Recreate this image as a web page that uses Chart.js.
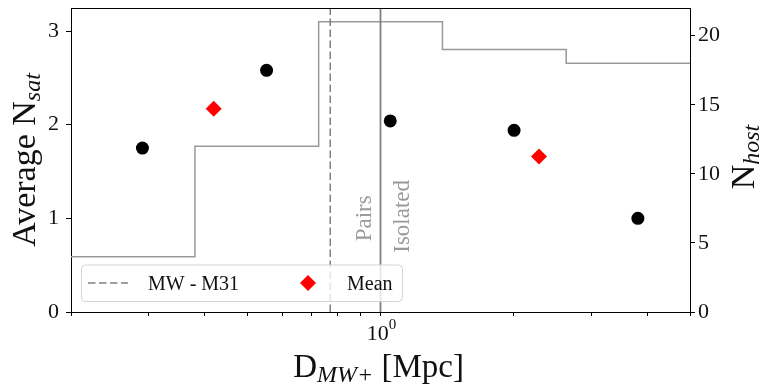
<!DOCTYPE html>
<html>
<head>
<meta charset="utf-8">
<title>Average satellites vs distance</title>
<script src="https://cdn.jsdelivr.net/npm/chart.js@4.4.1/dist/chart.umd.min.js"></script>
<style>
  html, body { margin: 0; padding: 0; background: #fff; }
  #wrap { width: 761px; height: 390px; }
</style>
</head>
<body>
<div id="wrap"><canvas id="satChart" width="761" height="390"></canvas></div>
<script>
// distance bins [Mpc] and number of hosts per bin
const binEdges = [0.2, 0.381, 0.725, 1.38, 2.627, 5.0];
const nHost = [4, 12, 21, 19, 18];

// average satellite count per bin
const binCenters = [0.29, 0.553, 1.052, 2.003, 3.813];
const avgNsat = [1.75, 2.58, 2.04, 1.94, 1.0];

// pairs / isolated means
const meanDist = [0.42, 2.28];
const meanNsat = [2.17, 1.66];

const mwM31Dist = 0.77;
const splitDist = 1.0;

const xTicks = [0.2, 0.3, 0.4, 0.5, 0.6, 0.7, 0.8, 0.9, 1, 2, 3, 4, 5];
const nsatTicks = [0, 1, 2, 3];
const nhostTicks = [0, 5, 10, 15, 20];
const nsatMax = 3.246;
const nhostMax = 22;

const SERIF = '"Liberation Serif", "Times New Roman", serif';
const GREY = '#808080';
const DASH = [7.5, 3.5];

Chart.defaults.font.family = SERIF;

// step outline: each bin value holds until the next edge
const stepPoints = binEdges.map((e, i) => ({ x: e, y: nHost[Math.min(i, nHost.length - 1)] }));
const dotPoints = binCenters.map((x, i) => ({ x: x, y: avgNsat[i] }));
const meanPoints = meanDist.map((x, i) => ({ x: x, y: meanNsat[i] }));

function vline(x) {
    return [{ x: x, y: 0 }, { x: x, y: nsatMax }];
}

// text with an italic subscript, drawn left to right from (x, y)
function drawSub(ctx, base, sub, x, y, size, subSize, drop) {
    ctx.font = size + 'px ' + SERIF;
    ctx.fillText(base, x, y);
    const w = ctx.measureText(base).width;
    ctx.font = 'italic ' + subSize + 'px ' + SERIF;
    ctx.fillText(sub, x + w, y + drop);
    return w + ctx.measureText(sub).width;
}

function subWidth(ctx, base, sub, size, subSize) {
    ctx.font = size + 'px ' + SERIF;
    let w = ctx.measureText(base).width;
    ctx.font = 'italic ' + subSize + 'px ' + SERIF;
    return w + ctx.measureText(sub).width;
}

const annotations = {
    id: 'annotations',
    afterDraw(chart) {
        const ctx = chart.ctx;
        const area = chart.chartArea;
        const xs = chart.scales.x;
        const ys = chart.scales.y;

        ctx.save();

        // top frame line
        ctx.strokeStyle = '#000';
        ctx.lineWidth = 1;
        ctx.beginPath();
        ctx.moveTo(area.left, Math.round(area.top) + 0.5);
        ctx.lineTo(area.right, Math.round(area.top) + 0.5);
        ctx.stroke();

        // region labels either side of the split
        const sx = xs.getPixelForValue(splitDist);
        const sy = ys.getPixelForValue(1);
        ctx.fillStyle = '#9a9a9a';
        ctx.font = '23px ' + SERIF;
        ctx.textAlign = 'center';
        ctx.textBaseline = 'alphabetic';
        ctx.save();
        ctx.translate(sx - 9.5, sy);
        ctx.rotate(-Math.PI / 2);
        ctx.fillText('Pairs', 0, 0);
        ctx.restore();
        ctx.save();
        ctx.translate(sx + 28, sy - 2);
        ctx.rotate(-Math.PI / 2);
        ctx.fillText('Isolated', 0, 0);
        ctx.restore();

        // x tick label 10^0
        ctx.fillStyle = '#111';
        ctx.textAlign = 'left';
        ctx.font = '22px ' + SERIF;
        const tw = ctx.measureText('10').width;
        ctx.font = '15px ' + SERIF;
        const sw = ctx.measureText('0').width;
        const tx = xs.getPixelForValue(1) - (tw + sw) / 2 + 1;
        ctx.font = '22px ' + SERIF;
        ctx.fillText('10', tx, 340);
        ctx.font = '15px ' + SERIF;
        ctx.fillText('0', tx + tw, 329);

        // legend box
        const lx = area.left + 10.5;
        const lh = 36.5;
        const ly = area.bottom - 10.5 - lh;
        const lw = 321;
        ctx.beginPath();
        ctx.roundRect(lx, ly, lw, lh, 4);
        ctx.fillStyle = 'rgba(255,255,255,0.8)';
        ctx.fill();
        ctx.strokeStyle = '#d4d4d4';
        ctx.lineWidth = 1;
        ctx.stroke();

        const my = ly + 18;
        ctx.strokeStyle = GREY;
        ctx.lineWidth = 1.5;
        ctx.setLineDash(DASH);
        ctx.beginPath();
        ctx.moveTo(lx + 6.5, my);
        ctx.lineTo(lx + 46.5, my);
        ctx.stroke();
        ctx.setLineDash([]);

        Chart.helpers.drawPoint(ctx, {
            pointStyle: 'rectRot', radius: 8, borderWidth: 0
        }, lx + 226.5, my);
        ctx.fillStyle = 'red';
        ctx.fill();

        ctx.fillStyle = '#111';
        ctx.font = '20px ' + SERIF;
        ctx.fillText('MW - M31', lx + 66.5, my + 7);
        ctx.fillText('Mean', lx + 265.5, my + 7);

        // x axis title
        const cx = (area.left + area.right) / 2;
        const dw = subWidth(ctx, 'D', 'MW+', 33, 24);
        ctx.font = '33px ' + SERIF;
        const mw = ctx.measureText(' [Mpc]').width;
        const x0 = cx - (dw + mw) / 2 - 2;
        drawSub(ctx, 'D', 'MW+', x0, 377, 33, 24, 5);
        ctx.font = '33px ' + SERIF;
        ctx.fillText(' [Mpc]', x0 + dw, 377);

        // left y title
        const cy = (area.top + area.bottom) / 2;
        ctx.save();
        const lwid = subWidth(ctx, 'Average N', 'sat', 34, 24);
        ctx.translate(35, cy);
        ctx.rotate(-Math.PI / 2);
        drawSub(ctx, 'Average N', 'sat', -lwid / 2, 0, 34, 24, 5);
        ctx.restore();

        // right y title
        ctx.save();
        const rwid = subWidth(ctx, 'N', 'host', 34, 24);
        ctx.translate(754, cy - 3);
        ctx.rotate(-Math.PI / 2);
        drawSub(ctx, 'N', 'host', -rwid / 2, 0, 34, 24, 5);
        ctx.restore();

        ctx.restore();
    }
};

const axisGrid = {
    drawOnChartArea: false,
    color: '#000',
    tickLength: 5,
    lineWidth: 1
};

// fixed axis sizes, no extra room for overhanging tick labels
function fixWidth(w) {
    return s => { s.width = w; s.paddingTop = 0; s.paddingBottom = 0; };
}

new Chart(document.getElementById('satChart'), {
    type: 'scatter',
    data: {
        datasets: [
            {
                label: 'Mean',
                data: meanPoints,
                yAxisID: 'y',
                pointStyle: 'rectRot',
                pointRadius: 8,
                backgroundColor: 'red',
                borderWidth: 0,
                order: 0
            },
            {
                label: 'Average',
                data: dotPoints,
                yAxisID: 'y',
                pointStyle: 'circle',
                pointRadius: 6.5,
                backgroundColor: '#000',
                borderWidth: 0,
                order: 1
            },
            {
                label: 'split',
                data: vline(splitDist),
                yAxisID: 'y',
                showLine: true,
                borderColor: GREY,
                borderWidth: 1.8,
                pointRadius: 0,
                order: 2
            },
            {
                label: 'MW - M31',
                data: vline(mwM31Dist),
                yAxisID: 'y',
                showLine: true,
                borderColor: GREY,
                borderWidth: 1.5,
                borderDash: DASH,
                pointRadius: 0,
                order: 3
            },
            {
                label: 'N host',
                data: stepPoints,
                yAxisID: 'y1',
                showLine: true,
                stepped: 'before',
                borderColor: '#999',
                borderWidth: 1.5,
                pointRadius: 0,
                order: 4
            }
        ]
    },
    options: {
        responsive: false,
        animation: false,
        events: [],
        layout: { padding: { top: 5, left: 0, right: 0, bottom: 0 } },
        plugins: {
            legend: { display: false },
            tooltip: { enabled: false }
        },
        scales: {
            x: {
                type: 'logarithmic',
                position: 'bottom',
                min: binEdges[0],
                max: binEdges[binEdges.length - 1],
                afterBuildTicks: s => { s.ticks = xTicks.map(v => ({ value: v, major: v === 1 })); },
                afterFit: s => { s.height = 78; s.paddingLeft = 0; s.paddingRight = 0; },
                ticks: { callback: () => '', autoSkip: false, maxRotation: 0 },
                grid: Object.assign({}, axisGrid, { tickLength: 4 }),
                border: { color: '#000', width: 1 }
            },
            y: {
                position: 'left',
                min: 0,
                max: nsatMax,
                afterBuildTicks: s => { s.ticks = nsatTicks.map(v => ({ value: v })); },
                afterFit: fixWidth(71),
                ticks: { color: '#111', font: { size: 22 }, padding: 7 },
                grid: axisGrid,
                border: { color: '#000', width: 1 }
            },
            y1: {
                position: 'right',
                min: 0,
                max: nhostMax,
                afterBuildTicks: s => { s.ticks = nhostTicks.map(v => ({ value: v })); },
                afterFit: fixWidth(71),
                ticks: { color: '#111', font: { size: 22 }, padding: 3 },
                grid: axisGrid,
                border: { color: '#000', width: 1 }
            }
        }
    },
    plugins: [annotations]
});
</script>
</body>
</html>
